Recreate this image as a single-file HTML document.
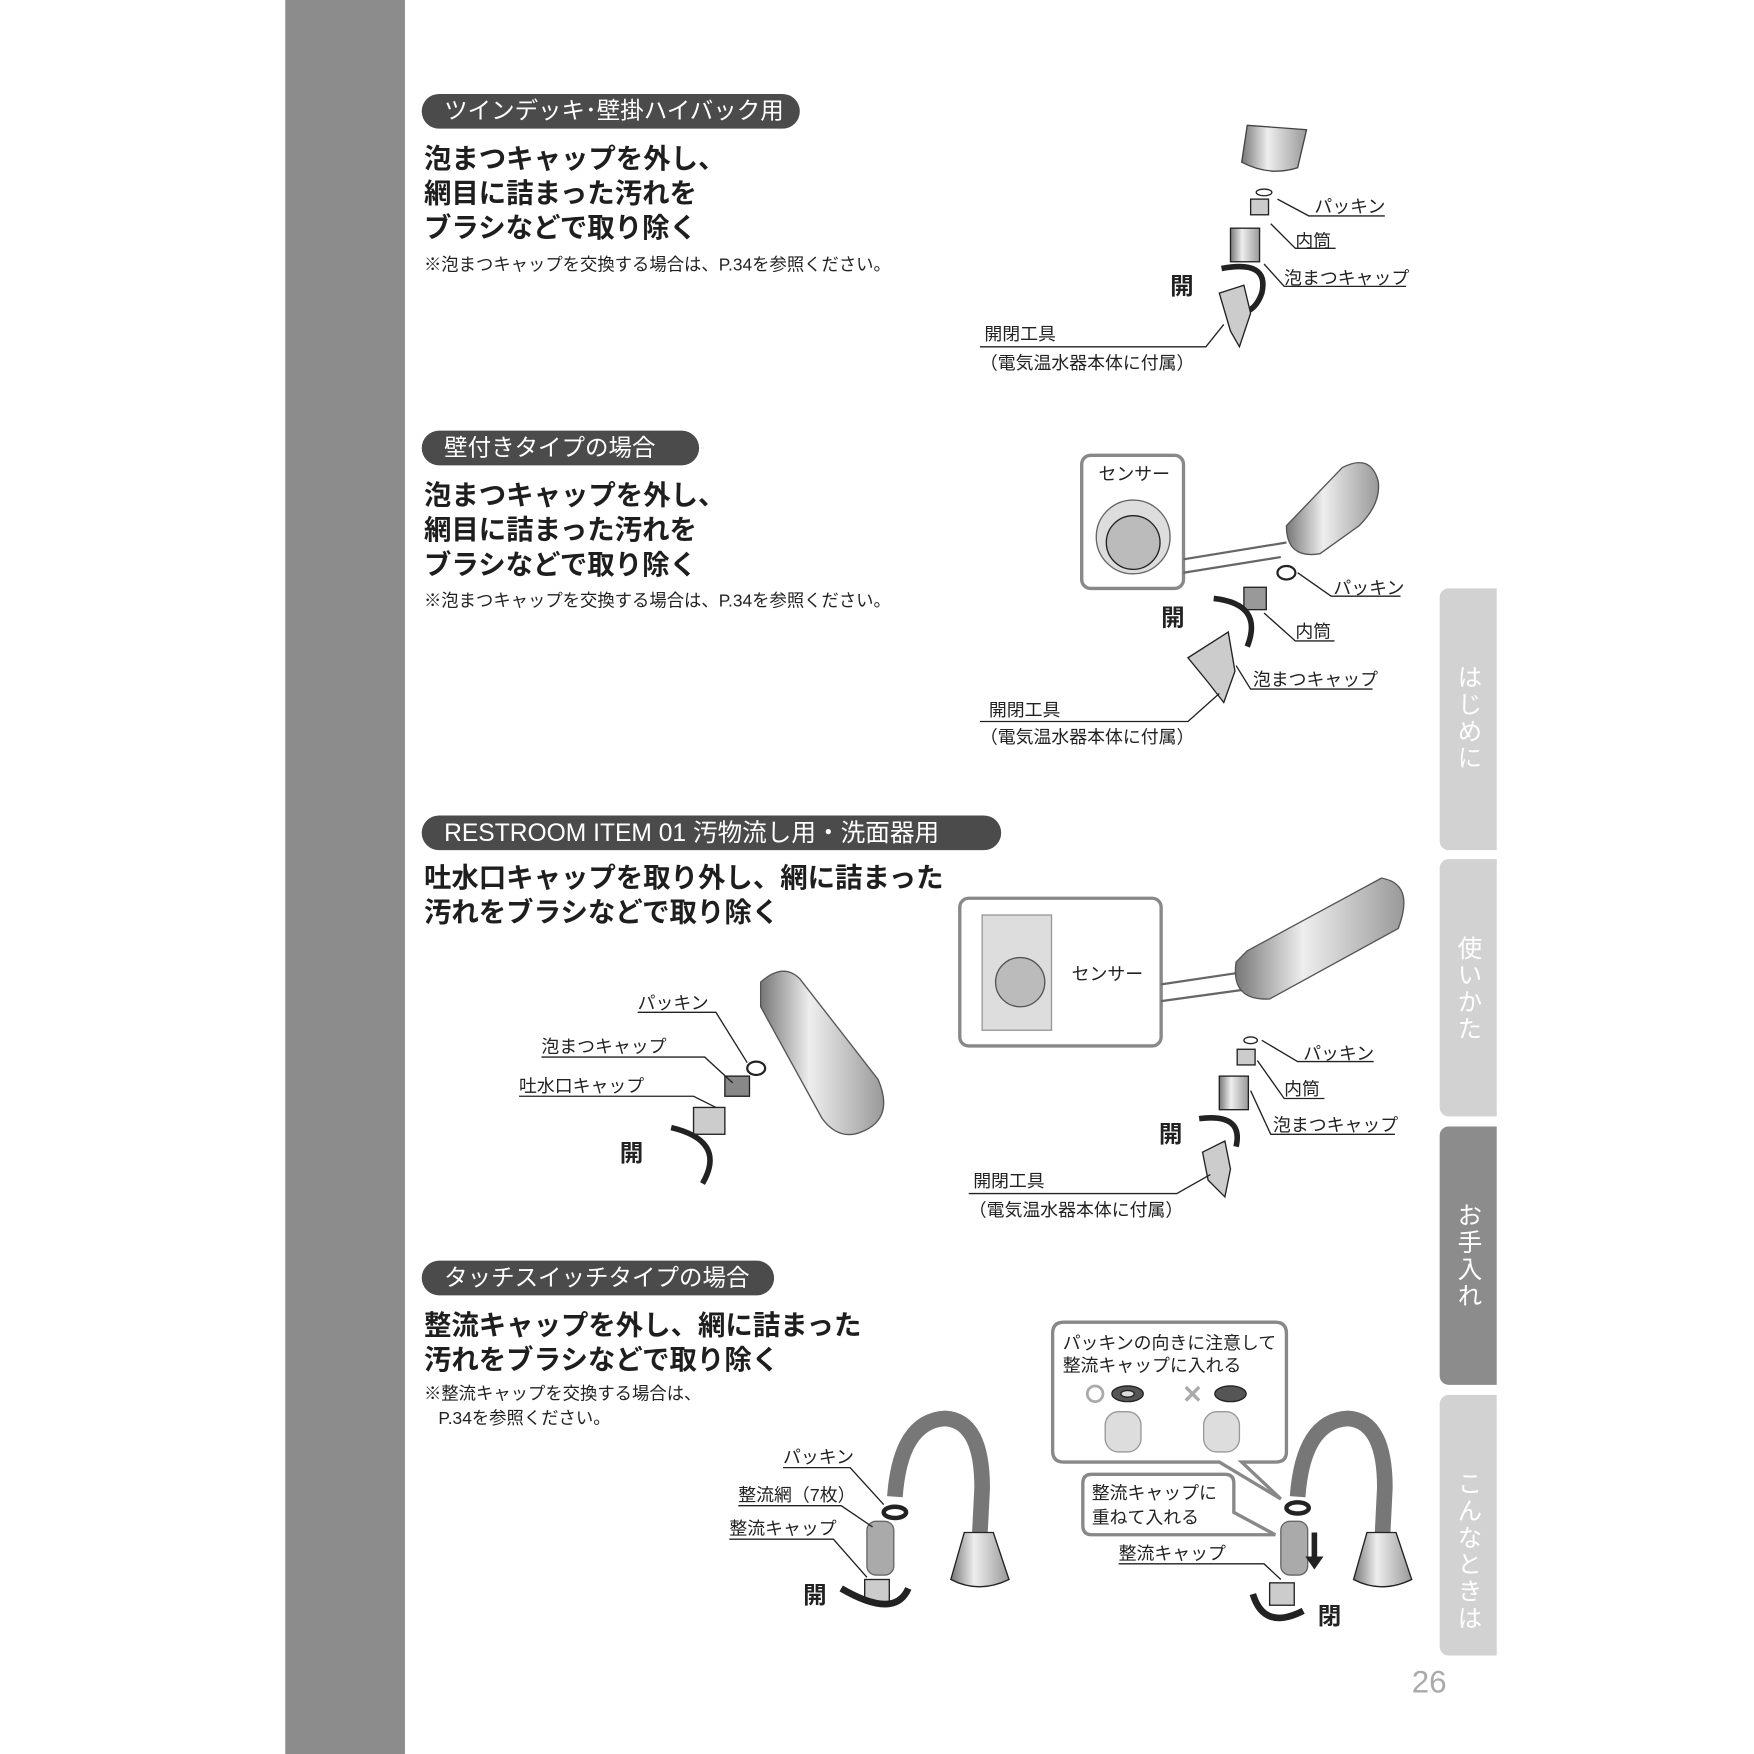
<!DOCTYPE html>
<html><head><meta charset="utf-8">
<style>
html,body{margin:0;padding:0;background:#fff;}
#wrap{position:relative;width:1754px;height:1754px;overflow:hidden;background:#fff;}
#pg{position:absolute;left:0;top:0;width:1568px;height:1568px;transform:scale(1.118622);transform-origin:0 0;font-family:"Liberation Sans","Noto Sans CJK JP",sans-serif;color:#222;}
.a{position:absolute;white-space:nowrap;}
.pill{position:absolute;background:#4b4b4b;color:#fff;border-radius:16px;height:31px;line-height:31px;font-size:21px;padding-left:20px;box-sizing:border-box;}
.h{position:absolute;font-size:24.5px;font-weight:bold;line-height:31px;white-space:nowrap;color:#1e1e1e;}
.n{position:absolute;font-size:15.5px;white-space:nowrap;color:#222;line-height:22px;}
.tab{position:absolute;left:1287px;width:51px;border-radius:8px 0 0 8px;background:#d2d2d2;color:#fff;font-size:22px;writing-mode:vertical-rl;text-orientation:upright;box-sizing:border-box;padding-top:68px;line-height:51px;letter-spacing:2px;}
</style></head><body><div id="wrap"><div id="pg">
<div class="a" style="left:255px;top:0;width:107px;height:1568px;background:#8c8c8c"></div>

<div class="pill" style="left:377px;top:84px;width:338px">ツインデッキ･壁掛ハイバック用</div>
<div class="h" style="left:379px;top:127px">泡まつキャップを外し、<br>網目に詰まった汚れを<br>ブラシなどで取り除く</div>
<div class="n" style="left:379px;top:227px">※泡まつキャップを交換する場合は、P.34を参照ください。</div>

<div class="pill" style="left:377px;top:385px;width:248px">壁付きタイプの場合</div>
<div class="h" style="left:379px;top:428px">泡まつキャップを外し、<br>網目に詰まった汚れを<br>ブラシなどで取り除く</div>
<div class="n" style="left:379px;top:527px">※泡まつキャップを交換する場合は、P.34を参照ください。</div>

<div class="pill" style="left:377px;top:729px;width:518px;font-size:22px">RESTROOM ITEM 01 汚物流し用・洗面器用</div>
<div class="h" style="left:379px;top:770px">吐水口キャップを取り外し、網に詰まった<br>汚れをブラシなどで取り除く</div>

<div class="pill" style="left:377px;top:1127px;width:315px">タッチスイッチタイプの場合</div>
<div class="h" style="left:379px;top:1170px">整流キャップを外し、網に詰まった<br>汚れをブラシなどで取り除く</div>
<div class="n" style="left:379px;top:1236px">※整流キャップを交換する場合は、<br>&nbsp;&nbsp;&nbsp;P.34を参照ください。</div>

<div class="tab" style="top:526px;height:234px">はじめに</div>
<div class="tab" style="top:768px;height:230px">使いかた</div>
<div class="tab" style="top:1007px;height:231px;background:#8c8c8c">お手入れ</div>
<div class="tab" style="top:1247px;height:233px">こんなときは</div>
<div class="a" style="left:1262px;top:1488px;font-size:28px;color:#aaa">26</div>

<svg class="a" style="left:0;top:0" width="1568" height="1568" font-family="Liberation Sans,Noto Sans CJK JP,sans-serif" font-size="16" fill="#222">
<defs><linearGradient id="g" x1="0" x2="1"><stop offset="0" stop-color="#777"/><stop offset=".4" stop-color="#eee"/><stop offset="1" stop-color="#999"/></linearGradient></defs>
<g stroke="#222" stroke-width="1.2" fill="none">
<path d="M1115 112 L1168 116 L1160 150 Q1135 158 1110 145 Z" fill="url(#g)" stroke="#444"/>
<ellipse cx="1130" cy="172" rx="7" ry="3"/>
<rect x="1118" y="178" width="16" height="14" fill="#ccc"/>
<rect x="1100" y="204" width="26" height="30" fill="url(#g)"/>
<path d="M1092 240 Q1135 232 1128 262 Q1120 285 1098 278" stroke-width="5"/>
<path d="M1090 262 L1112 255 L1118 280 L1108 310 L1100 296 Z" fill="#ccc"/>
<path d="M1142 178 L1170 193 L1238 193 M1136 200 L1158 222 L1194 222 M1130 236 L1148 256 L1257 256 M1094 290 L1078 310 L876 310"/>
<rect x="967" y="407" width="91" height="119" rx="8" stroke="#888" stroke-width="3"/>
<circle cx="1013" cy="480" r="33" fill="#ddd" stroke="#666"/>
<circle cx="1013" cy="485" r="24" fill="#bbb"/>
<path d="M1058 500 L1150 485 M1058 512 L1145 498" stroke="#666" stroke-width="2"/>
<path d="M1150 470 L1200 418 Q1225 405 1232 430 Q1235 450 1215 470 L1180 495 Q1150 500 1150 470 Z" fill="url(#g)" stroke="#555"/>
<ellipse cx="1150" cy="512" rx="8" ry="6" stroke-width="2"/>
<rect x="1112" y="525" width="20" height="20" fill="#999"/>
<path d="M1085 535 Q1130 540 1115 578" stroke-width="5"/>
<path d="M1062 588 L1098 565 L1104 600 L1094 628 L1080 610 Z" fill="#ccc"/>
<path d="M1160 512 L1190 533 L1252 533 M1130 548 L1158 573 L1193 573 M1105 595 L1118 616 L1227 616 M1090 620 L1062 645 L876 645"/>
<path d="M680 878 Q700 860 715 875 L785 965 Q800 1000 770 1012 Q750 1020 735 1000 L680 900 Z" fill="url(#g)" stroke="#555"/>
<ellipse cx="676" cy="955" rx="8" ry="6" stroke-width="2"/>
<rect x="648" y="962" width="22" height="18" fill="#888"/>
<rect x="620" y="990" width="28" height="24" fill="#ccc"/>
<path d="M600 1008 Q650 1020 628 1058" stroke-width="5"/>
<path d="M570 905 L640 905 L668 950 M484 945 L630 945 L655 968 M464 980 L620 980 L640 990"/>
<rect x="858" y="803" width="180" height="132" rx="8" stroke="#888" stroke-width="3"/>
<rect x="878" y="818" width="62" height="103" fill="#ddd" stroke="#999"/>
<circle cx="912" cy="878" r="22" fill="#bbb" stroke="#555"/>
<path d="M1038 880 L1105 870 M1038 895 L1110 885" stroke="#666" stroke-width="2"/>
<path d="M1115 850 L1235 785 Q1265 790 1250 830 L1135 893 Q1100 895 1105 860 Z" fill="url(#g)" stroke="#555"/>
<ellipse cx="1118" cy="930" rx="6" ry="3"/>
<rect x="1106" y="938" width="16" height="14" fill="#ccc"/>
<rect x="1090" y="962" width="26" height="30" fill="url(#g)"/>
<path d="M1072 1000 Q1112 995 1105 1025" stroke-width="5"/>
<path d="M1075 1030 L1095 1020 L1100 1045 L1095 1070 L1080 1055 Z" fill="#ccc"/>
<path d="M1128 930 L1160 949 L1228 949 M1124 948 L1148 982 L1184 982 M1118 975 L1136 1014 L1247 1014 M1082 1050 L1052 1067 L866 1067"/>
<path d="M800 1338 Q805 1270 845 1268 Q878 1270 878 1330 L876 1370" stroke="#777" stroke-width="14"/>
<path d="M862 1370 L888 1370 L902 1412 Q875 1425 850 1412 Z" fill="url(#g)"/>
<ellipse cx="800" cy="1352" rx="10" ry="5" stroke-width="4"/>
<rect x="775" y="1360" width="24" height="48" rx="8" fill="#aaa" stroke="#666"/>
<rect x="773" y="1412" width="22" height="20" fill="#ccc"/>
<path d="M752 1420 Q800 1448 812 1420" stroke-width="6"/>
<path d="M700 1312 L760 1312 L790 1345 M660 1346 L752 1346 L780 1365 M652 1376 L745 1376 L775 1410"/>
<path d="M951 1182 H1140 Q1150 1182 1150 1192 V1298 Q1150 1307 1140 1307 H1110 L1145 1340 L1090 1307 H951 Q941 1307 941 1297 V1192 Q941 1182 951 1182 Z" stroke="#888" stroke-width="3" fill="#fff"/>
<circle cx="979" cy="1246" r="7" stroke="#aaa" stroke-width="2.5"/>
<ellipse cx="1008" cy="1246" rx="14" ry="7" fill="#555"/>
<ellipse cx="1008" cy="1246" rx="6" ry="3" fill="#ddd"/>
<path d="M1060 1240 L1072 1252 M1072 1240 L1060 1252" stroke="#aaa" stroke-width="3"/>
<ellipse cx="1100" cy="1246" rx="14" ry="7" fill="#555"/>
<rect x="988" y="1262" width="32" height="36" rx="12" fill="#ddd" stroke="#999"/>
<rect x="1076" y="1262" width="32" height="36" rx="12" fill="#ddd" stroke="#999"/>
<path d="M976 1318 H1095 Q1103 1318 1103 1326 V1352 L1140 1372 L1098 1372 H976 Q968 1372 968 1364 V1326 Q968 1318 976 1318 Z" stroke="#888" stroke-width="3" fill="#fff"/>
<path d="M1160 1338 Q1165 1270 1205 1268 Q1238 1270 1238 1330 L1236 1370" stroke="#777" stroke-width="14"/>
<path d="M1222 1370 L1248 1370 L1262 1412 Q1235 1425 1210 1412 Z" fill="url(#g)"/>
<ellipse cx="1160" cy="1348" rx="10" ry="5" stroke-width="4"/>
<rect x="1145" y="1360" width="24" height="48" rx="8" fill="#aaa" stroke="#666"/>
<path d="M1175 1370 V1395" stroke-width="5"/><path d="M1168 1392 L1175 1402 L1182 1392 Z" fill="#222"/>
<rect x="1135" y="1415" width="22" height="20" fill="#ccc"/>
<path d="M1120 1425 Q1130 1458 1165 1440" stroke-width="6"/>
<path d="M1000 1398 L1130 1398 L1145 1412"/>
</g>
<g font-size="16">
<text x="1175" y="190">パッキン</text><text x="1158" y="221">内筒</text><text x="1148" y="254">泡まつキャップ</text>
<text x="1046" y="263" font-size="21" font-weight="bold">開</text>
<text x="880" y="304">開閉工具</text><text x="876" y="330">（電気温水器本体に付属）</text>
<text x="982" y="429">センサー</text>
<text x="1192" y="531">パッキン</text><text x="1158" y="570">内筒</text><text x="1120" y="613">泡まつキャップ</text>
<text x="1038" y="559" font-size="21" font-weight="bold">開</text>
<text x="884" y="640">開閉工具</text><text x="876" y="664">（電気温水器本体に付属）</text>
<text x="570" y="902">パッキン</text><text x="484" y="941">泡まつキャップ</text><text x="464" y="976">吐水口キャップ</text>
<text x="554" y="1038" font-size="21" font-weight="bold">開</text>
<text x="958" y="876">センサー</text>
<text x="1165" y="947">パッキン</text><text x="1148" y="979">内筒</text><text x="1138" y="1011">泡まつキャップ</text>
<text x="1036" y="1021" font-size="21" font-weight="bold">開</text>
<text x="870" y="1061">開閉工具</text><text x="866" y="1087">（電気温水器本体に付属）</text>
<text x="700" y="1308">パッキン</text><text x="660" y="1342">整流網（7枚）</text><text x="652" y="1372">整流キャップ</text>
<text x="718" y="1433" font-size="21" font-weight="bold">開</text>
<text x="950" y="1206">パッキンの向きに注意して</text><text x="950" y="1226">整流キャップに入れる</text>
<text x="976" y="1340">整流キャップに</text><text x="976" y="1362">重ねて入れる</text>
<text x="1000" y="1394">整流キャップ</text>
<text x="1178" y="1452" font-size="21" font-weight="bold">閉</text>
</g>
</svg>
</div></div></body></html>
